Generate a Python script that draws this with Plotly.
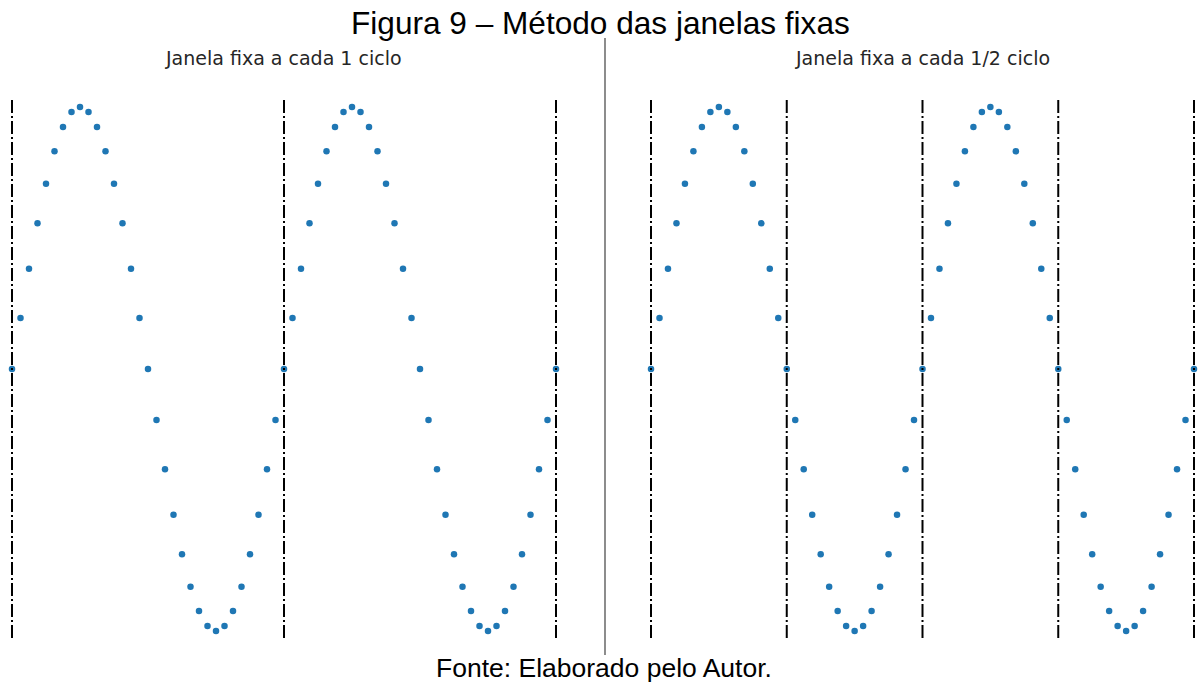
import plotly.graph_objects as go

# Sample index (32 samples per cycle, two cycles)
indice = list(range(65))
amostras = [
    0.000, 0.195, 0.383, 0.556, 0.707, 0.831, 0.924, 0.981,
    1.000, 0.981, 0.924, 0.831, 0.707, 0.556, 0.383, 0.195,
    0.000, -0.195, -0.383, -0.556, -0.707, -0.831, -0.924, -0.981,
    -1.000, -0.981, -0.924, -0.831, -0.707, -0.556, -0.383, -0.195,
    0.000, 0.195, 0.383, 0.556, 0.707, 0.831, 0.924, 0.981,
    1.000, 0.981, 0.924, 0.831, 0.707, 0.556, 0.383, 0.195,
    0.000, -0.195, -0.383, -0.556, -0.707, -0.831, -0.924, -0.981,
    -1.000, -0.981, -0.924, -0.831, -0.707, -0.556, -0.383, -0.195,
    0.000,
]
# Window boundaries (sample index)
janelas_ciclo = [0, 32, 64]
janelas_meio_ciclo = [0, 16, 32, 48, 64]

titulo = "Figura 9 – Método das janelas fixas"
subtitulos = ["Janela fixa a cada 1 ciclo", "Janela fixa a cada 1/2 ciclo"]
fonte = "Fonte: Elaborado pelo Autor."

W, H = 1199, 683
AZUL = "#1f77b4"
YR = 1.027
TRACO = "13px,3px,2px,3px"

fig = go.Figure()
for k, ax in enumerate(["x", "x2"]):
    fig.add_trace(go.Scatter(
        x=indice, y=amostras, mode="markers",
        marker=dict(color=AZUL, size=6.5),
        xaxis=ax, yaxis="y" if k == 0 else "y2",
        cliponaxis=False, showlegend=False, hoverinfo="skip",
    ))

for xv in janelas_ciclo:
    fig.add_shape(type="line", xref="x", yref="y", x0=xv, x1=xv, y0=YR, y1=-YR,
                  line=dict(color="black", width=2, dash=TRACO))
for xv in janelas_meio_ciclo:
    fig.add_shape(type="line", xref="x2", yref="y2", x0=xv, x1=xv, y0=YR, y1=-YR,
                  line=dict(color="black", width=2, dash=TRACO))

ybot = 1 - 638 / H
ytop = 1 - 100 / H
ax_common = dict(visible=False, showgrid=False, zeroline=False, fixedrange=True)
fig.update_layout(
    width=W, height=H,
    margin=dict(l=0, r=0, t=0, b=0),
    paper_bgcolor="white", plot_bgcolor="white",
    xaxis=dict(domain=[(12 - 4.25) / W, (556 + 4.25) / W], range=[-0.5, 64.5], **ax_common),
    yaxis=dict(domain=[ybot, ytop], range=[-YR, YR], **ax_common),
    xaxis2=dict(domain=[(651 - 4.24) / W, (1194 + 4.24) / W], range=[-0.5, 64.5], anchor="y2", **ax_common),
    yaxis2=dict(domain=[ybot, ytop], range=[-YR, YR], anchor="x2", **ax_common),
)

# Separator line
fig.add_shape(type="line", xref="paper", yref="paper",
              x0=605 / W, x1=605 / W, y0=1 - 655 / H, y1=1 - 38 / H,
              line=dict(color="#404040", width=1.2))

fig.add_annotation(text=titulo, xref="paper", yref="paper", x=600.5 / W, y=1 - 23 / H,
                   showarrow=False, xanchor="center", yanchor="middle",
                   font=dict(family="Liberation Sans, Arial", size=31.6, color="black"))
fig.add_annotation(text=subtitulos[0], xref="paper", yref="paper", x=283 / W, y=1 - 58 / H,
                   showarrow=False, xanchor="center", yanchor="middle",
                   font=dict(family="DejaVu Sans", size=19, color="#262626"))
fig.add_annotation(text=subtitulos[1], xref="paper", yref="paper", x=922 / W, y=1 - 58 / H,
                   showarrow=False, xanchor="center", yanchor="middle",
                   font=dict(family="DejaVu Sans", size=19, color="#262626"))
fig.add_annotation(text=fonte, xref="paper", yref="paper", x=604 / W, y=1 - 668 / H,
                   showarrow=False, xanchor="center", yanchor="middle",
                   font=dict(family="Liberation Sans, Arial", size=26.5, color="black"))

fig.write_html("out.html", config={"displayModeBar": False},
               post_script="document.body.style.margin='0';")
